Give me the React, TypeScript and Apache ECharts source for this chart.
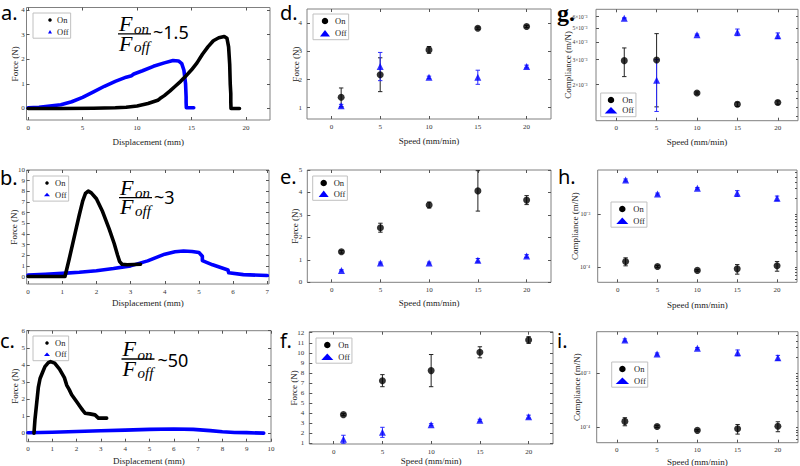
import React, { useEffect, useRef } from 'react';
import * as echarts from 'echarts';

const SERIF = "'Liberation Serif', serif";
const SANS = "'Noto Sans', sans-serif";
const BLACK = '#000000';
const BLUE = '#0000ff';

// ---------- force–displacement curves (x: mm, y: N) ----------
const aOn: number[][] = [
  [0, 0], [3, 0], [6, 0.01], [8, 0.03], [9, 0.05], [10, 0.1], [11, 0.2], [11.9, 0.33], [12.1, 0.4],
  [12.5, 0.52], [13, 0.7], [13.5, 0.9], [14, 1.1], [14.5, 1.33], [15, 1.57], [15.5, 1.85], [16, 2.2],
  [16.5, 2.5], [17, 2.75], [17.5, 2.87], [18, 2.92], [18.25, 2.85], [18.4, 2.5], [18.5, 1.8],
  [18.55, 1.0], [18.6, 0.6], [18.6, 0.3], [18.62, 0], [19.4, 0],
];
const aOff: number[][] = [
  [0, 0.03], [1, 0.05], [2, 0.1], [3, 0.15], [4, 0.27], [5, 0.45], [6, 0.67], [7, 0.9], [8, 1.1],
  [9, 1.27], [9.5, 1.33], [9.7, 1.4], [10.5, 1.53], [11.5, 1.71], [12.5, 1.85], [13.3, 1.95],
  [13.8, 1.93], [14.1, 1.82], [14.3, 1.55], [14.45, 1.0], [14.5, 0.47], [14.5, 0.25], [14.52, 0.03], [15.2, 0.03],
];
const bOn: number[][] = [
  [0, 0], [1.08, 0], [1.2, 1.6], [1.3, 3.0], [1.4, 4.4], [1.5, 5.8], [1.6, 7.1], [1.68, 7.8], [1.76, 8.02],
  [1.85, 7.85], [2.0, 7.3], [2.18, 6.1], [2.37, 4.5], [2.52, 3.1], [2.62, 2.0], [2.68, 1.4], [2.75, 1.15],
  [2.9, 1.1], [3.29, 1.15],
];
const bOff: number[][] = [
  [0, 0.15], [0.5, 0.22], [1, 0.3], [1.5, 0.4], [2, 0.55], [2.5, 0.75], [3, 1.0], [3.5, 1.47], [4, 2.1],
  [4.3, 2.32], [4.55, 2.4], [4.8, 2.35], [5.0, 2.25], [5.1, 1.9], [5.1, 1.5], [5.4, 1.1], [5.85, 0.62],
  [5.87, 0.35], [6.3, 0.18], [7, 0.1],
];
const cOn: number[][] = [
  [0.25, 0], [0.29, 0.8], [0.36, 1.75], [0.43, 2.7], [0.5, 3.2], [0.6, 3.55], [0.7, 3.9], [0.84, 4.13],
  [0.93, 4.19], [1.1, 4.1], [1.3, 3.75], [1.5, 3.25], [1.6, 2.8], [1.7, 2.55], [1.8, 2.25], [2.0, 1.85],
  [2.15, 1.55], [2.25, 1.35], [2.35, 1.17], [2.55, 1.13], [2.76, 1.07], [2.9, 0.88], [3.24, 0.88],
];
const cOff: number[][] = [
  [0, 0.02], [1, 0.05], [2, 0.1], [3, 0.14], [4, 0.18], [5, 0.22], [6, 0.24], [6.8, 0.22], [7.5, 0.15],
  [8, 0.08], [8.5, 0.04], [9, 0.03], [9.7, 0.0],
];

// ---------- speed sweeps ----------
const speeds = [1, 5, 10, 15, 20];
const dOn = [1.37, 2.17, 3.05, 3.82, 3.88];
const dOnErr = [0.33, 0.6, 0.12, 0.04, 0.04];
const dOff = [1.07, 2.46, 2.08, 2.08, 2.46];
const dOffErr = [0.05, 0.5, 0.04, 0.25, 0.05];
const eOn = [1.36, 2.43, 3.44, 4.07, 3.66];
const eOnErr = [0.06, 0.2, 0.13, 0.9, 0.2];
const eOff = [0.53, 0.86, 0.86, 0.98, 1.17];
const eOffErr = [0.03, 0.04, 0.04, 0.08, 0.06];
const fOn = [3.85, 7.23, 8.23, 10.05, 11.27];
const fOnErr = [0.1, 0.6, 1.6, 0.55, 0.33];
const fOff = [1.4, 2.09, 2.85, 3.29, 3.65];
const fOffErr = [0.4, 0.5, 0.1, 0.1, 0.15];
const gOn = [2.95e-3, 2.98e-3, 1.75e-3, 1.46e-3, 1.5e-3];
const gOnErr = [0.67e-3, 1.58e-3, 0.03e-3, 0.05e-3, 0.04e-3];
const gOff = [5.84e-3, 2.15e-3, 4.48e-3, 4.66e-3, 4.41e-3];
const gOffErr = [0.05e-3, 0.85e-3, 0.05e-3, 0.25e-3, 0.2e-3];
const hOn = [1.28e-4, 1.03e-4, 0.87e-4, 0.93e-4, 1.06e-4];
const hOnErr = [0.22e-4, 0.05e-4, 0.03e-4, 0.19e-4, 0.22e-4];
const hOff = [4.34e-3, 2.37e-3, 3.03e-3, 2.44e-3, 1.97e-3];
const hOffErr = [0.2e-3, 0.1e-3, 0.1e-3, 0.3e-3, 0.2e-3];
const iOn = [1.29e-4, 1.04e-4, 0.88e-4, 0.94e-4, 1.05e-4];
const iOnErr = [0.22e-4, 0.05e-4, 0.03e-4, 0.19e-4, 0.22e-4];
const iOff = [4.14e-3, 2.28e-3, 2.9e-3, 2.41e-3, 1.95e-3];
const iOffErr = [0.2e-3, 0.1e-3, 0.1e-3, 0.3e-3, 0.2e-3];

// ---------- ticks ----------
const xTicksA = [0, 5, 10, 15, 20];
const yTicksA = [0, 1, 2, 3, 4];
const xTicksB = [0, 1, 2, 3, 4, 5, 6, 7];
const yTicksB = [0, 1, 2, 3, 4, 5, 6, 7, 8, 9, 10];
const xTicksC = [0, 1, 2, 3, 4, 5, 6, 7, 8, 9, 10];
const yTicksC = [0, 1, 2, 3, 4, 5, 6];
const speedTicks = [0, 5, 10, 15, 20];
const yTicksD = [1, 2, 3, 4];
const yTicksE = [0, 1, 2, 3, 4, 5];
const yTicksF = [1, 2, 3, 4, 5, 6, 7, 8, 9, 10, 11, 12];
const yTicksG = [0.002, 0.003, 0.004, 0.005, 0.006];
const yLabelsG = ['2×10⁻³', '3×10⁻³', '4×10⁻³', '5×10⁻³', '6×10⁻³'];
const yMinorG = [0.0012, 0.0014, 0.0016, 0.0018, 0.002, 0.003, 0.004, 0.005, 0.006];
const yTicksHI = [1e-4, 1e-3];
const yLabelsHI = ['10⁻⁴', '10⁻³'];
const yMinorHI = [6e-5, 7e-5, 8e-5, 9e-5, 1e-4, 2e-4, 3e-4, 4e-4, 5e-4, 6e-4, 7e-4, 8e-4, 9e-4, 1e-3, 2e-3, 3e-3, 4e-3, 5e-3, 6e-3];

const letters = ['a.', 'b.', 'c.', 'd.', 'e.', 'f.', 'g.', 'h.', 'i.'];
const ratios = ['~1.5', '~3', '~50'];

type Panel = {
  grid: [number, number, number, number];
  xr: [number, number];
  yr: [number, number];
  xt: number[];
  yt: number[];
  ytl?: string[];
  yMinor?: number[];
  log?: boolean;
  xName: string;
  yName: string;
  xGap: number;
  yGap: number;
  lm: number;
  lf: number;
  lg: [number, number, number, number, number, number]; // left, top, padLeft, itemW, itemH, gap
};

const panels: Panel[] = [
  { grid: [26.5, 7.5, 243.5, 112.5], xr: [-0.15, 22.2], yr: [-0.47, 4.1], xt: xTicksA, yt: yTicksA,
    xName: 'Displacement (mm)', yName: 'Force (N)', xGap: 17, yGap: 7, lm: 1.8, lf: 7, lg: [33, 13, 15, 4, 3.5, 2.7] },
  { grid: [26.7, 170, 242.3, 114], xr: [-0.04, 7.05], yr: [-0.7, 10], xt: xTicksB, yt: yTicksB,
    xName: 'Displacement (mm)', yName: 'Force (N)', xGap: 14.5, yGap: 8.5, lm: 1.8, lf: 7, lg: [33, 176, 11, 6, 3.5, 2.6] },
  { grid: [26.7, 330.7, 244.3, 111], xr: [-0.05, 10.0], yr: [-0.5, 6], xt: xTicksC, yt: yTicksC,
    xName: 'Displacement (mm)', yName: 'Force (N)', xGap: 15, yGap: 7, lm: 1.8, lf: 7, lg: [33, 336, 11, 6, 3.5, 2.2] },
  { grid: [307, 9, 244, 110], xr: [-2.5, 22.5], yr: [0.6, 4.5], xt: speedTicks, yt: yTicksD,
    xName: 'Speed (mm/min)', yName: 'Force (N)', xGap: 17, yGap: 7, lm: 5, lf: 7, lg: [313, 14, 7, 10, 6.5, 3.2] },
  { grid: [307.3, 170, 243.7, 112.3], xr: [-2.5, 22.5], yr: [0, 5], xt: speedTicks, yt: yTicksE,
    xName: 'Speed (mm/min)', yName: 'Force (N)', xGap: 16, yGap: 7.5, lm: 5, lf: 7, lg: [312.7, 176, 6, 10, 6.5, 1.8] },
  { grid: [309.3, 331.7, 243.7, 112.3], xr: [-2.5, 22.5], yr: [0.93, 12.1], xt: speedTicks, yt: yTicksF,
    xName: 'Speed (mm/min)', yName: 'Force (N)', xGap: 12.8, yGap: 10.5, lm: 5, lf: 7, lg: [316, 338, 5.3, 12, 6.5, 2.7] },
  { grid: [596, 9.3, 202, 111.4], xr: [-2.5, 22.5], yr: [1.12e-3, 6.75e-3], xt: speedTicks, yt: yTicksG,
    ytl: yLabelsG, yMinor: yMinorG, log: true,
    xName: 'Speed (mm/min)', yName: 'Compliance (m/N)', xGap: 16.3, yGap: 24, lm: 8.5, lf: 5.5, lg: [600.7, 93, 4, 12.6, 6.5, 1.2] },
  { grid: [597.7, 170, 199.3, 112.3], xr: [-2.5, 22.5], yr: [5.2e-5, 6.7e-3], xt: speedTicks, yt: yTicksHI,
    ytl: yLabelsHI, yMinor: yMinorHI, log: true,
    xName: 'Speed (mm/min)', yName: 'Compliance (m/N)', xGap: 17.7, yGap: 18.5, lm: 7.5, lf: 6, lg: [611, 202, 5.3, 12, 6.5, 2.7] },
  { grid: [596.7, 331.7, 201.3, 111], xr: [-2.5, 22.5], yr: [5.2e-5, 5.9e-3], xt: speedTicks, yt: yTicksHI,
    ytl: yLabelsHI, yMinor: yMinorHI, log: true,
    xName: 'Speed (mm/min)', yName: 'Compliance (m/N)', xGap: 14.5, yGap: 15, lm: 6.5, lf: 6, lg: [611.7, 362, 4, 13.4, 6.5, 2.7] },
];

const letterPos: number[][] = [[1, 12.5], [0, 177], [0, 340], [280, 12.5], [280, 176.5], [280, 340], [557, 13], [558, 176.5], [557, 340]];
const formulaPos: number[][] = [[118, 33.8, 153, 31.5], [119, 197.7, 154, 196.5], [121.5, 359, 157.5, 359.5]];

const tr = (v: number, log?: boolean) => (log ? Math.log10(v) : v);

function errSeries(name: string, k: number, ys: number[], es: number[], color: string, log?: boolean) {
  return {
    type: 'custom',
    name,
    xAxisIndex: 2 * k,
    yAxisIndex: 2 * k,
    silent: true,
    clip: true,
    z: 2,
    data: speeds.map((x, i) => [x, tr(ys[i], log), tr(ys[i] - es[i], log), tr(ys[i] + es[i], log)]),
    encode: { x: 0, y: 1 },
    renderItem: (_params: any, api: any) => {
      const x = api.value(0);
      const p1 = api.coord([x, api.value(2)]);
      const p2 = api.coord([x, api.value(3)]);
      const w = 2.2;
      const st = { stroke: color, lineWidth: 1 };
      return {
        type: 'group',
        children: [
          { type: 'line', shape: { x1: p1[0], y1: p1[1], x2: p2[0], y2: p2[1] }, style: st },
          { type: 'line', shape: { x1: p1[0] - w, y1: p1[1], x2: p1[0] + w, y2: p1[1] }, style: st },
          { type: 'line', shape: { x1: p2[0] - w, y1: p2[1], x2: p2[0] + w, y2: p2[1] }, style: st },
        ],
      };
    },
  };
}

function scatterSeries(name: string, k: number, ys: number[], color: string, symbol: string, log?: boolean) {
  return {
    type: 'scatter',
    name,
    xAxisIndex: 2 * k,
    yAxisIndex: 2 * k,
    silent: true,
    z: 4,
    symbol,
    symbolSize: 7,
    itemStyle: { color },
    data: speeds.map((x, i) => [x, tr(ys[i], log)]),
  };
}

function lineSeries(name: string, k: number, data: number[][], color: string, symbol: string) {
  return {
    type: 'line',
    name,
    xAxisIndex: 2 * k,
    yAxisIndex: 2 * k,
    silent: true,
    showSymbol: false,
    symbol,
    z: name === 'On' ? 4 : 3,
    clip: true,
    lineStyle: { color, width: 3.6, cap: 'round', join: 'round' },
    itemStyle: { color },
    data,
  };
}

function formula(ox: number, oy: number, txt: string, tx: number, ty: number) {
  return {
    type: 'group',
    children: [
      {
        type: 'text', x: ox + 1, y: oy - 0.55,
        style: { text: 'F\nF', font: `italic 22px ${SERIF}`, lineHeight: 19.5, fill: '#000', verticalAlign: 'middle' },
      },
      {
        type: 'text', x: ox + 16, y: oy + 4.5,
        style: { text: 'on\noff', font: `italic 15px ${SERIF}`, lineHeight: 18, fill: '#000', verticalAlign: 'middle' },
      },
      { type: 'line', shape: { x1: ox, y1: oy, x2: ox + 33, y2: oy }, style: { stroke: '#000', lineWidth: 1.3 } },
      { type: 'text', x: tx, y: ty, style: { text: txt, font: `18px ${SANS}`, fill: '#000', verticalAlign: 'middle' } },
    ],
  };
}

function buildOption() {
  const grids: any[] = [];
  const xAxes: any[] = [];
  const yAxes: any[] = [];
  const legends: any[] = [];
  const tickLine = { color: '#555', width: 1 };
  const labelStyle = { fontFamily: SERIF, fontSize: 7, color: '#333' };
  const nameStyle = { fontFamily: SERIF, fontSize: 9, color: '#222' };
  const noLine = { show: false, onZero: false };

  panels.forEach((p, k) => {
    grids.push({
      left: p.grid[0], top: p.grid[1], width: p.grid[2], height: p.grid[3],
      show: true, borderColor: '#808080', borderWidth: 1, containLabel: false, outerBoundsMode: 'none',
    });
    xAxes.push({
      type: 'value', gridIndex: k, min: p.xr[0], max: p.xr[1], position: 'bottom',
      axisLine: noLine, splitLine: { show: false },
      axisTick: { show: true, inside: true, length: 3, customValues: p.xt, lineStyle: tickLine },
      axisLabel: { ...labelStyle, margin: 4, customValues: p.xt, formatter: (v: number) => String(v) },
      name: p.xName, nameLocation: 'middle', nameGap: p.xGap, nameMoveOverlap: false, nameTextStyle: nameStyle,
    });
    xAxes.push({
      type: 'value', gridIndex: k, min: p.xr[0], max: p.xr[1], position: 'top',
      axisLine: noLine, splitLine: { show: false },
      axisTick: { show: true, inside: true, length: 3, customValues: p.xt, lineStyle: tickLine },
      axisLabel: { show: false },
    });
    const yt = p.yt.map((v) => tr(v, p.log));
    const ytl = p.ytl;
    yAxes.push({
      type: 'value', gridIndex: k, min: tr(p.yr[0], p.log), max: tr(p.yr[1], p.log), position: 'left',
      axisLine: noLine, splitLine: { show: false },
      axisTick: { show: true, inside: true, length: 3, customValues: yt, lineStyle: tickLine },
      axisLabel: {
        ...labelStyle, fontSize: p.lf, margin: p.lm, customValues: yt,
        formatter: (v: number) => {
          if (ytl) {
            const i = yt.findIndex((t) => Math.abs(t - v) < 1e-6);
            return i >= 0 ? ytl[i] : '';
          }
          return String(v);
        },
      },
      name: p.yName, nameLocation: 'middle', nameGap: p.yGap, nameRotate: 90, nameMoveOverlap: false,
      nameTextStyle: nameStyle,
    });
    const yr = (p.yMinor ?? p.yt).map((v) => tr(v, p.log));
    yAxes.push({
      type: 'value', gridIndex: k, min: tr(p.yr[0], p.log), max: tr(p.yr[1], p.log), position: 'right',
      axisLine: noLine, splitLine: { show: false },
      axisTick: { show: true, inside: true, length: p.yMinor ? 2 : 3, customValues: yr, lineStyle: tickLine },
      axisLabel: { show: false },
    });
    const [lgL, lgT, padL, iw, ih, gap] = p.lg;
    legends.push({
      data: [{ name: 'On', icon: 'circle' }, { name: 'Off', icon: 'triangle' }],
      left: lgL, top: lgT, orient: 'vertical', itemWidth: iw, itemHeight: ih, itemGap: gap,
      padding: [2.5, 2, 2, padL], borderColor: '#c0c0c0', borderWidth: 1, selectedMode: false,
      textStyle: { fontFamily: SERIF, fontSize: 8.5, color: '#222', lineHeight: 9 },
    });
  });

  const series: any[] = [
    lineSeries('Off', 0, aOff, BLUE, 'triangle'),
    lineSeries('On', 0, aOn, BLACK, 'circle'),
    lineSeries('Off', 1, bOff, BLUE, 'triangle'),
    lineSeries('On', 1, bOn, BLACK, 'circle'),
    lineSeries('Off', 2, cOff, BLUE, 'triangle'),
    lineSeries('On', 2, cOn, BLACK, 'circle'),
  ];
  const sweeps: [number[], number[], number[], number[]][] = [
    [dOn, dOnErr, dOff, dOffErr],
    [eOn, eOnErr, eOff, eOffErr],
    [fOn, fOnErr, fOff, fOffErr],
    [gOn, gOnErr, gOff, gOffErr],
    [hOn, hOnErr, hOff, hOffErr],
    [iOn, iOnErr, iOff, iOffErr],
  ];
  sweeps.forEach(([on, onE, off, offE], j) => {
    const k = j + 3;
    const log = panels[k].log;
    series.push(errSeries('errOn', k, on, onE, '#222', log));
    series.push(errSeries('errOff', k, off, offE, '#2a2aff', log));
    series.push(scatterSeries('On', k, on, BLACK, 'circle', log));
    series.push(scatterSeries('Off', k, off, BLUE, 'triangle', log));
  });

  const graphic: any[] = [];
  letters.forEach((t, i) => {
    const [x, y] = letterPos[i];
    graphic.push({
      type: 'text', x, y,
      style: {
        text: t,
        font: t === 'g.' ? `bold 24px ${SERIF}` : `20px ${SANS}`,
        fill: '#000', verticalAlign: 'middle',
      },
    });
  });
  ratios.forEach((r, i) => {
    const [ox, oy, tx, ty] = formulaPos[i];
    graphic.push(formula(ox, oy, r, tx, ty));
  });

  return {
    animation: false,
    backgroundColor: '#ffffff',
    grid: grids,
    xAxis: xAxes,
    yAxis: yAxes,
    legend: legends,
    series,
    graphic,
  };
}

export default function App() {
  const ref = useRef<HTMLDivElement>(null);
  useEffect(() => {
    document.body.style.margin = '0';
    if (!ref.current) return;
    const chart = echarts.init(ref.current, undefined, { renderer: 'svg' });
    chart.setOption(buildOption() as any);
    return () => chart.dispose();
  }, []);
  return <div ref={ref} style={{ width: 800, height: 466 }} />;
}
